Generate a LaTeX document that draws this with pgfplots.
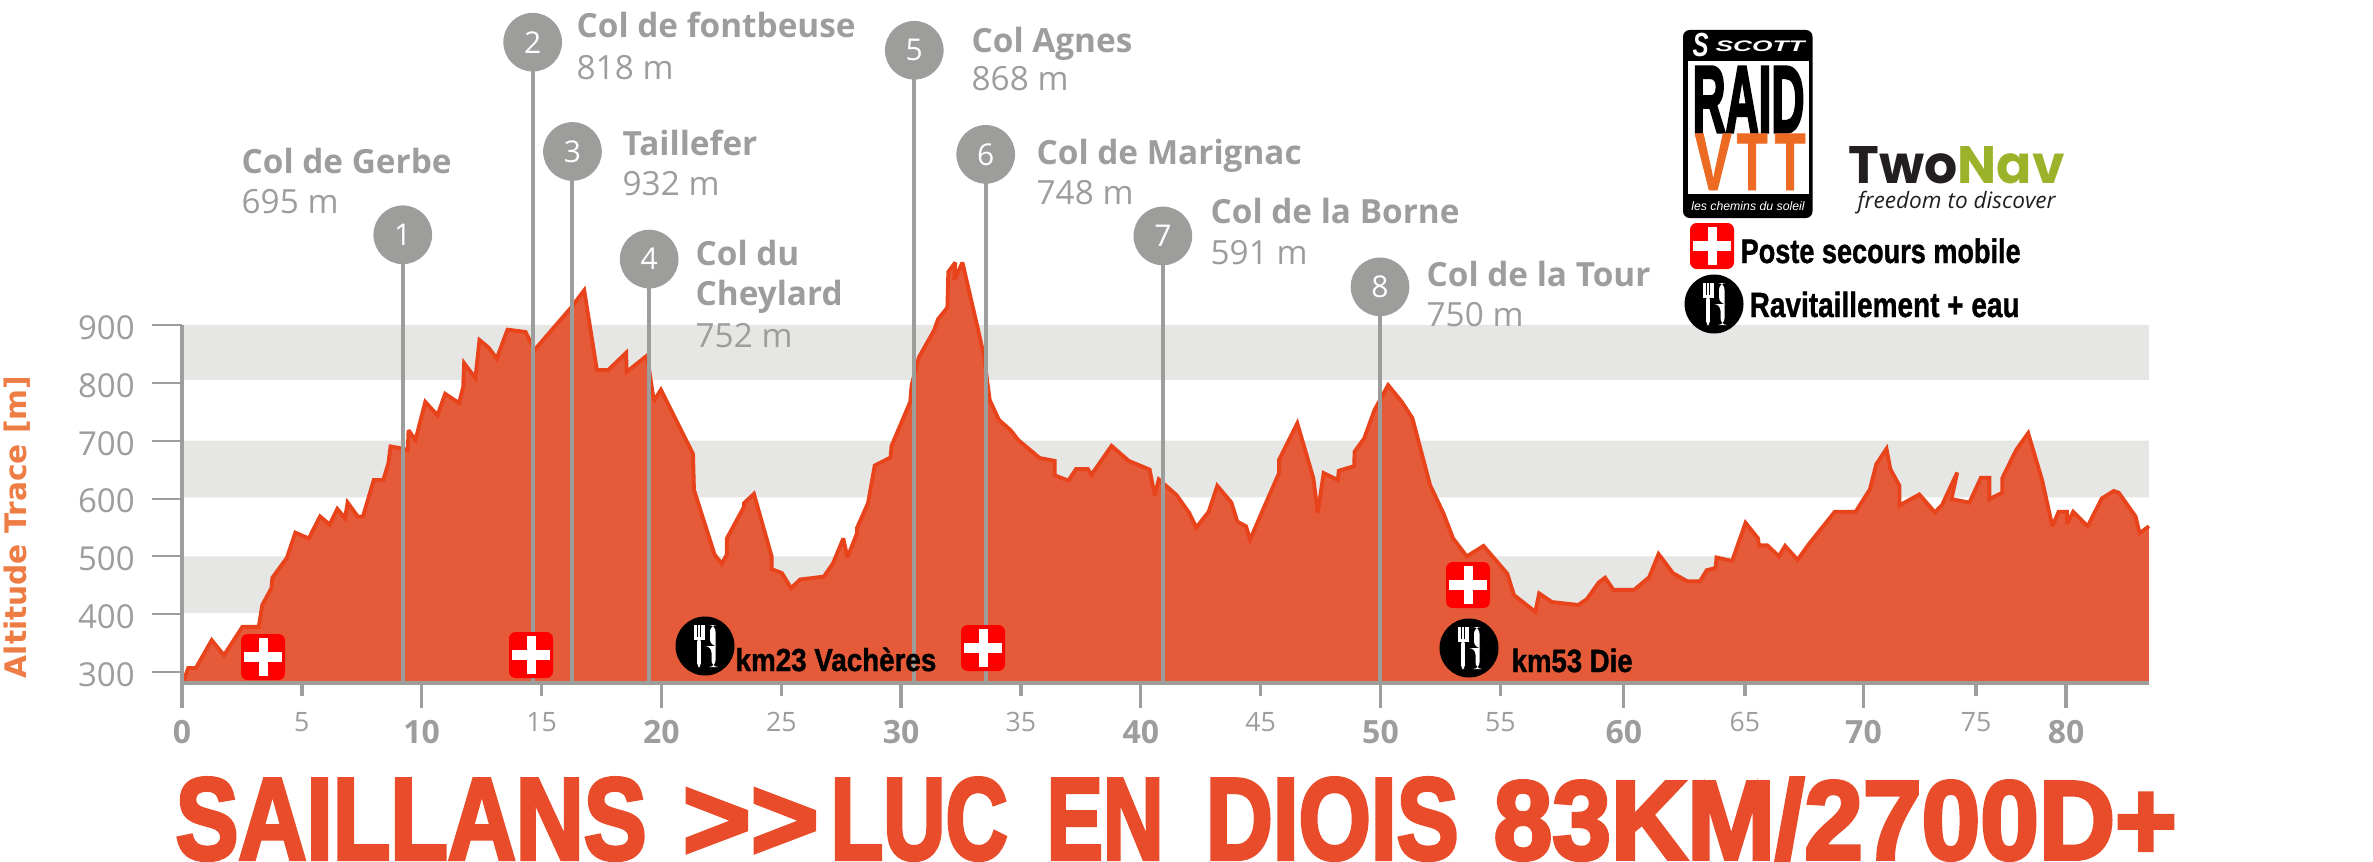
\documentclass[border=0pt]{standalone}
\usepackage{fontspec}
\setmainfont{Open Sans}
\newfontfamily\dejavu{DejaVu Sans}
\newfontfamily\libsans{Liberation Sans}
\newfontfamily\libheavy[BoldFeatures={FakeBold=3.5}]{Liberation Sans}
\newfontfamily\libblack[BoldFeatures={FakeBold=1.2}]{Liberation Sans}
\newfontfamily\poppins{Poppins}
\usepackage{graphicx}
\usepackage{pgfplots}
\usepackage{pgfplotstable}
\pgfplotsset{compat=1.18}

\definecolor{pingray}{HTML}{9D9D9C}
\definecolor{band}{HTML}{E6E6E4}
\definecolor{areafill}{HTML}{E55A38}
\definecolor{arealine}{HTML}{E8431B}
\definecolor{titlered}{HTML}{E84C2A}
\definecolor{ylab}{HTML}{EE7D45}
\definecolor{vtt}{HTML}{EC6A22}
\definecolor{navgreen}{HTML}{9BB32B}
\definecolor{twodark}{HTML}{231F20}

% profile: km, altitude
\pgfplotstableread{
x y
0.00 285
0.09 287
0.26 307
0.58 307
1.24 355
1.75 329
2.52 378
3.20 378
3.35 416
3.73 445
3.77 463
4.37 497
4.73 541
5.29 531
5.76 569
6.16 555
6.48 582
6.80 566
6.91 593
7.33 569
7.55 569
8.00 632
8.40 632
8.61 661
8.70 690
9.10 687
9.42 684
9.45 718
9.74 701
10.15 767
10.66 744
10.98 781
11.56 765
11.73 793
11.77 834
12.24 808
12.41 874
12.79 861
13.13 842
13.58 892
14.33 888
14.50 874
14.71 857
16.25 931
16.78 960
17.31 822
17.78 822
18.53 852
18.55 819
19.40 847
19.66 776
19.72 771
19.98 788
21.32 677
21.36 615
22.22 503
22.52 487
22.73 503
22.73 531
23.45 586
23.45 592
23.86 608
24.60 500
24.60 478
25.03 471
25.41 445
25.79 460
26.78 465
27.16 488
27.59 531
27.76 498
28.16 540
28.16 549
28.62 592
28.90 657
29.56 671
29.60 691
30.38 767
30.44 796
30.74 844
31.38 891
31.54 910
31.93 930
31.97 992
32.26 1008
32.22 978
32.56 1008
33.20 894
33.45 848
33.70 770
34.08 736
34.57 718
34.89 701
35.78 670
36.41 665
36.41 640
36.98 631
37.30 651
37.79 651
37.94 641
38.78 691
39.50 665
40.37 650
40.58 605
40.75 633
41.49 606
42.02 575
42.32 550
42.83 577
43.19 622
43.78 593
44.03 560
44.39 552
44.56 529
45.09 580
45.77 644
45.77 667
46.53 730
47.20 635
47.38 575
47.63 644
48.22 632
48.26 648
48.90 656
48.92 681
49.32 704
49.75 753
50.32 796
50.89 767
51.33 739
52.07 623
52.62 575
53.03 531
53.60 500
54.30 518
55.29 470
55.57 433
56.46 404
56.62 436
57.15 421
58.25 416
58.61 426
59.11 455
59.37 463
59.72 442
60.58 442
61.21 464
61.60 504
62.20 471
62.79 457
63.33 457
63.61 476
63.98 480
64.02 498
64.67 492
65.23 558
65.75 531
65.79 519
66.14 519
66.62 500
66.88 518
67.40 494
67.87 521
68.95 577
69.82 577
70.42 616
70.68 659
71.11 686
71.27 651
71.65 622
71.65 588
72.48 607
73.13 576
73.43 589
74.06 645
73.82 599
74.57 593
75.05 636
75.40 636
75.40 599
75.94 610
75.94 635
76.52 684
77.02 713
77.60 632
78.03 552
78.29 577
78.64 577
78.64 556
78.90 577
79.50 552
80.09 600
80.59 613
80.80 610
81.50 569
81.67 540
82.06 552
}\profile

% numbered pins: km, height of the disc on the axis scale
\pgfplotstableread{
x y lab
9.21 1056 1
14.63 1389 2
16.29 1200 3
19.49 1014 4
30.55 1375 5
33.53 1195 6
40.92 1054 7
49.98 966 8
}\pins

\newcommand{\sz}[1]{\fontsize{#1}{#1}\selectfont}

% red first-aid square
\newcommand{\secours}[2]{%
  \begin{scope}[shift={(#1,#2)}]
    \fill[red, rounded corners=2pt] (-22,-23) rectangle (22,23);
    \fill[white] (-4.5,-19) rectangle (4.5,19);
    \fill[white] (-19,-5) rectangle (19,5);
  \end{scope}}

% black disc with fork and knife
\newcommand{\ravito}[2]{%
  \begin{scope}[shift={(#1,#2)}]
    \fill[black] (0,0) circle[radius=29.5];
    \fill[white] (-11.5,-21) rectangle (-0.5,-6);
    \fill[black] (-8.2,-21) rectangle (-7.2,-9);
    \fill[black] (-4.8,-21) rectangle (-3.8,-9);
    \fill[white, rounded corners=1pt] (-7.8,-8) rectangle (-4.2,21);
    \fill[white, rounded corners=2pt] (5,-21) -- (10.5,-21) -- (10.5,21) -- (6.5,21) -- (6.5,0) -- (5,0) -- cycle;
  \end{scope}}

\begin{document}
\begin{tikzpicture}
\begin{axis}[
  scale only axis,
  width=590.1pt, height=107.4pt,
  xmin=0, xmax=82.06, ymin=281, ymax=900,
  clip=false,
  axis x line=bottom, axis y line=left,
  axis line style={-, line width=1.1pt, pingray},
  axis on top,
  tick align=outside,
  major tick length=7.5pt,
  xtick={0,10,20,30,40,50,60.15,70.15,78.6},
  xticklabels={0,10,20,30,40,50,60,70,80},
  ytick=\empty,
  x tick style={line width=1pt, pingray},
  y tick style={line width=0.6pt, pingray},
  extra y ticks={300,400,500,600,700,800,900},
  extra y tick style={major tick length=9pt},
  extra x ticks={5,15,25,35,45,55,65.2,74.85},
  extra x tick labels={5,15,25,35,45,55,65,75},
  extra x tick style={
    major tick length=4pt,
    tick style={line width=0.8pt, pingray},
    xticklabel style={font=\sz{8pt}, yshift=-1pt},
  },
  /pgf/number format/assume math mode=true,
  xticklabel style={font=\bfseries\sz{9.6pt}, text=pingray, inner sep=0pt, yshift=-3.5pt},
  yticklabel style={font=\sz{9.9pt}, text=pingray, inner sep=0pt, xshift=-5pt, yshift=-0.8pt},
  unbounded coords=jump,
]
  % grey bands
  \addplot[draw=none, fill=band] coordinates {(0,805) (82.06,805) (82.06,900) (0,900) (0,805)};
  \addplot[draw=none, fill=band] coordinates {(0,602) (82.06,602) (82.06,700) (0,700) (0,602)};
  \addplot[draw=none, fill=band] coordinates {(0,402) (82.06,402) (82.06,500) (0,500) (0,402)};

  % profile
  \addplot[draw=none, fill=areafill] table[x=x, y=y] {\profile} \closedcycle;
  \addplot[arealine, line width=1.15pt, line join=miter, miter limit=3] table[x=x, y=y] {\profile};

  % pin stems
  \addplot[pingray, line width=1.2pt] coordinates {
    (9.21,281) (9.21,1056) (9.21,nan)
    (14.63,281) (14.63,1389) (14.63,nan)
    (16.29,281) (16.29,1200) (16.29,nan)
    (19.49,281) (19.49,1014) (19.49,nan)
    (30.55,281) (30.55,1375) (30.55,nan)
    (33.53,281) (33.53,1195) (33.53,nan)
    (40.92,281) (40.92,1054) (40.92,nan)
    (49.98,281) (49.98,966)
  };
  % pin discs
  \addplot[pingray, only marks, mark=*, mark size=8.6pt, mark options={solid, fill=pingray, draw=pingray},
    nodes near coords, point meta=explicit symbolic,
    every node near coord/.style={anchor=center, text=white, font=\sz{9pt}, inner sep=0pt},
  ] table[x=x, y=y, meta=lab] {\pins};
\end{axis}

\begin{scope}[x=0.3pt, y=-0.3pt, shift={(-182,-683)}]
  % pin captions
  \begin{scope}[shift={(0,2)}, every node/.style={anchor=base west, inner sep=0pt, text=pingray, font=\sz{10pt}},
                nb/.style={font=\bfseries\sz{10pt}}]
    \node[nb] at (241,171) {Col de Gerbe};  \node at (241,212) {695 m};
    \node[nb] at (576,36) {Col de fontbeuse}; \node at (576,77) {818 m};
    \node[nb] at (622,153) {Taillefer};     \node at (622,194) {932 m};
    \node[nb] at (695,263) {Col du};
    \node[nb] at (695,303) {Cheylard};      \node at (695,345) {752 m};
    \node[nb] at (971,50) {Col Agnes};      \node at (971,89) {868 m};
    \node[nb] at (1036,162) {Col de Marignac}; \node at (1036,203) {748 m};
    \node[nb] at (1210,221) {Col de la Borne}; \node at (1210,262) {591 m};
    \node[nb] at (1426,284) {Col de la Tour}; \node at (1426,324) {750 m};
  \end{scope}

  % y axis title
  \node[rotate=90, anchor=base, inner sep=0pt, text=ylab, font=\dejavu\bfseries\sz{8.9pt}] at (26,527) {Altitude Trace [m]};

  % aid stations
  \secours{263}{657}
  \secours{531}{655}
  \secours{983}{648}
  \secours{1468}{585}
  \ravito{705}{646}
  \ravito{1469}{648}
  \begin{scope}[every node/.style={anchor=base west, inner sep=0pt, text=black}]
    \node at (735,671) {\resizebox{60.2pt}{7pt}{\libblack\bfseries km23 Vachères}};
    \node at (1511,672) {\resizebox{36.3pt}{7pt}{\libblack\bfseries km53 Die}};
    \node at (1740,263) {\resizebox{84pt}{7.4pt}{\libblack\bfseries Poste secours mobile}};
    \node at (1749,317) {\resizebox{81pt}{7.6pt}{\libblack\bfseries Ravitaillement + eau}};
  \end{scope}

  % legend icons
  \secours{1712}{246}
  \ravito{1714}{304}

  % Raid VTT badge
  \fill[black, rounded corners=2pt] (1683,30) rectangle (1812.5,218);
  \fill[white] (1687.5,61) rectangle (1809,194);
  \node[anchor=base west, inner sep=0pt, text=white] at (1692,57) {\resizebox{4.8pt}{7pt}{\libblack\bfseries\itshape S}};
  \node[anchor=base west, inner sep=0pt, text=white] at (1715,52) {\resizebox{26.7pt}{3.2pt}{\libblack\bfseries\itshape SCOTT}};
  \node[anchor=base, inner sep=0pt] at (1748.5,132) {\resizebox{33.6pt}{19.5pt}{\libheavy\bfseries RAID}};
  \begin{scope}[every node/.style={anchor=base west, inner sep=0pt, text=vtt}]
    \node at (1694,190) {\resizebox{11.1pt}{16.8pt}{\libblack\bfseries V}};
    \node at (1736,190) {\resizebox{9.3pt}{16.8pt}{\libblack\bfseries T}};
    \node at (1774,190) {\resizebox{9.3pt}{16.8pt}{\libblack\bfseries T}};
  \end{scope}
  \node[anchor=center, inner sep=0pt, text=white] at (1748,206) {\resizebox{34pt}{!}{\libsans\itshape\sz{9pt}les chemins du soleil}};

  % TwoNav
  \node[anchor=base west, inner sep=0pt] at (1848,183) {\resizebox{64.8pt}{11.1pt}{\poppins\bfseries\textcolor{twodark}{Two}\textcolor{navgreen}{Nav}}};
  \node[anchor=base west, inner sep=0pt, text=twodark] at (1857,209) {\resizebox{59.4pt}{!}{\itshape\sz{9pt}freedom to discover}};

  % title, word by word
  \begin{scope}[every node/.style={anchor=base west, inner sep=0pt, text=titlered}]
    \node at (175,859) {\resizebox{141.3pt}{24.3pt}{\libheavy\bfseries SAILLANS}};
    \node at (682,859) {\resizebox{40.8pt}{24.3pt}{\libheavy\bfseries\vphantom{S}>>}};
    \node at (830,859) {\resizebox{53.1pt}{24.3pt}{\libheavy\bfseries\vphantom{S}LUC}};
    \node at (1046,859) {\resizebox{35.1pt}{24.3pt}{\libheavy\bfseries\vphantom{S}EN}};
    \node at (1205,859) {\resizebox{75.9pt}{24.3pt}{\libheavy\bfseries\vphantom{S}DIOIS}};
    \node at (1493,859) {\resizebox{204.9pt}{24.3pt}{\libheavy\bfseries\vphantom{S}83KM/2700D+}};
  \end{scope}

  \pgfresetboundingbox
  \path[use as bounding box] (0,0) rectangle (2373,861);
\end{scope}
\end{tikzpicture}
\end{document}
